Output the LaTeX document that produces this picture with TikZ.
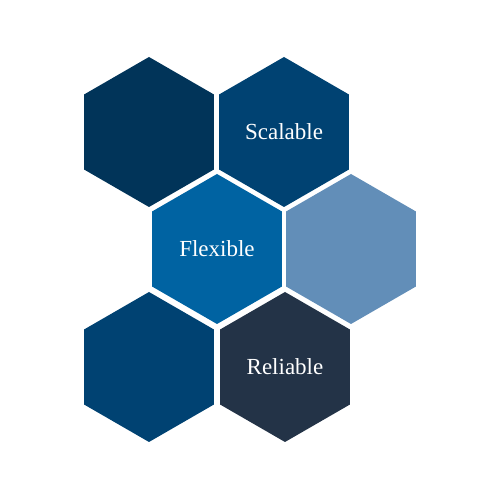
\documentclass[tikz,border=0pt]{standalone}
\usepackage{fontspec}
\setmainfont{Liberation Serif}
\usepackage{tikz}
\usetikzlibrary{shapes.geometric}
\usepackage{xcolor}
\definecolor{navydeep}{RGB}{1,52,89}
\definecolor{navy}{RGB}{0,66,114}
\definecolor{azure}{RGB}{0,99,162}
\definecolor{steel}{RGB}{98,142,184}
\definecolor{slate}{RGB}{35,51,71}

\begin{document}
\begin{tikzpicture}[x=1pt, y=1pt,
  hexcell/.style={regular polygon, regular polygon sides=6, shape border rotate=30,
    minimum size=150pt, inner sep=0pt, fill=#1, text=white,
    font=\fontsize{23}{27}\selectfont}]
  \useasboundingbox (0,0) rectangle (500,500);
  % top row
  \node[hexcell=navydeep] (corner) at (149,368) {};
  \node[hexcell=navy] (scalable) at (284,368) {Scalable};
  % middle row
  \node[hexcell=azure] (flexible) at (217,251) {Flexible};
  \node[hexcell=steel] (spare) at (351,251) {};
  % bottom row
  \node[hexcell=navy] (base) at (149,133) {};
  \node[hexcell=slate] (reliable) at (285,133) {Reliable};
\end{tikzpicture}
\end{document}
